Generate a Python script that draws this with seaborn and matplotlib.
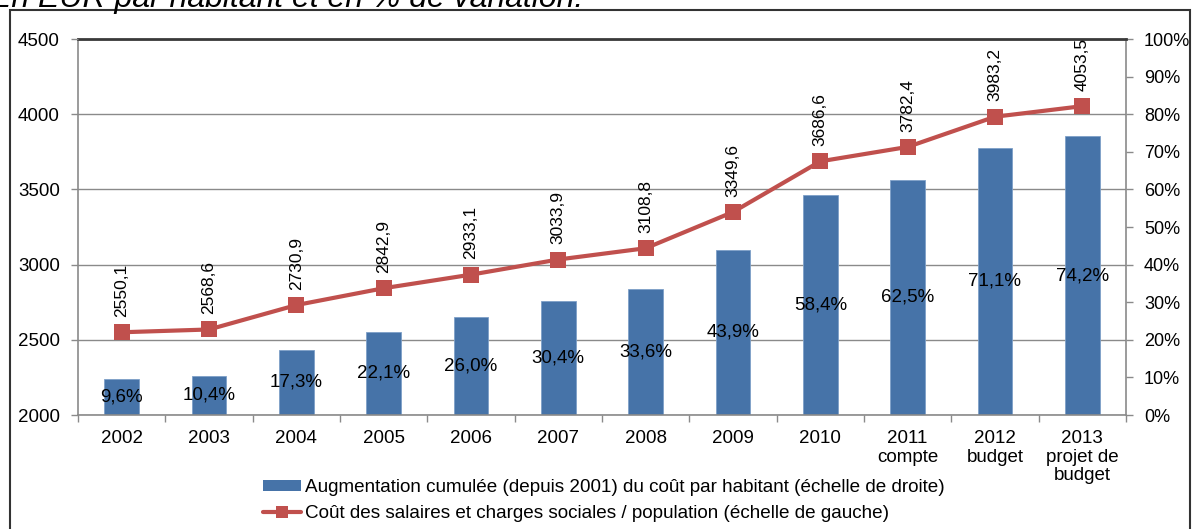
import matplotlib.pyplot as plt
import matplotlib.ticker as ticker
import numpy as np
import pandas as pd
import seaborn as sns
from matplotlib.lines import Line2D
from matplotlib.patches import Patch, Rectangle

sns.set_theme(style="white")
plt.rcParams["font.family"] = ["Liberation Sans", "DejaVu Sans"]
plt.rcParams["text.color"] = "black"
plt.rcParams["xtick.color"] = "black"
plt.rcParams["ytick.color"] = "black"

categories = ["2002", "2003", "2004", "2005", "2006", "2007", "2008", "2009",
              "2010", "2011\ncompte", "2012\nbudget", "2013\nprojet de\nbudget"]
pct_labels = ["9,6%", "10,4%", "17,3%", "22,1%", "26,0%", "30,4%", "33,6%",
              "43,9%", "58,4%", "62,5%", "71,1%", "74,2%"]
pct_values = [9.6, 10.4, 17.3, 22.1, 26.0, 30.4, 33.6, 43.9, 58.4, 62.5, 71.1, 74.2]
cost_values = [2550.1, 2568.6, 2730.9, 2842.9, 2933.1, 3033.9, 3108.8, 3349.6,
               3686.6, 3782.4, 3983.2, 4053.5]
cost_labels = ["2550,1", "2568,6", "2730,9", "2842,9", "2933,1", "3033,9", "3108,8",
               "3349,6", "3686,6", "3782,4", "3983,2", "4053,5"]

bar_label = "Augmentation cumulée (depuis 2001) du coût par habitant (échelle de droite)"
line_label = "Coût des salaires et charges sociales / population (échelle de gauche)"

bar_color = "#4673a8"
line_color = "#c0504d"
axis_gray = "#8a8a8a"

df = pd.DataFrame({"cat": categories, "pct": pct_values, "cost": cost_values})

W, H = 1194, 529
fig = plt.figure(figsize=(W / 100, H / 100), dpi=100)
ax = fig.add_axes([78 / W, 1 - 415 / H, (1126 - 78) / W, (415 - 39) / H])

# bars on the percentage scale (shown on the right)
sns.barplot(data=df, x="cat", y="pct", ax=ax, color=bar_color, width=0.4,
            saturation=1, edgecolor="#7ea0c8", linewidth=0.6, zorder=2)
ax.set_xlim(-0.5, len(categories) - 0.5)
ax.set_ylim(0, 100)
ax.set_xlabel("")
ax.set_ylabel("")
ax.bar_label(ax.containers[0], labels=pct_labels, label_type="center",
             fontsize=13.5, color="black")

# line on the cost scale (shown on the left)
ax2 = ax.twinx()
sns.lineplot(x=np.arange(len(cost_values)), y=cost_values, ax=ax2, color=line_color,
             linewidth=3, marker="s", markersize=11, markeredgewidth=0, zorder=5)
ax2.set_ylim(2000, 4500)
ax2.yaxis.tick_left()
ax2.yaxis.set_major_locator(ticker.MultipleLocator(500))
ax2.tick_params(axis="y", left=True, right=False, labelleft=True, labelright=False,
                length=5, width=1, color=axis_gray, pad=8, labelsize=13.5)
for sp in ax2.spines.values():
    sp.set_visible(False)

for i, (v, t) in enumerate(zip(cost_values, cost_labels)):
    ax2.annotate(t, (i, v), xytext=(0, 11), textcoords="offset points",
                 rotation=90, ha="center", va="bottom", fontsize=12.5)

# right axis setup (after twinx, which moves ticks)
ax.yaxis.tick_right()
ax.yaxis.set_major_locator(ticker.MultipleLocator(20))
ax.yaxis.set_minor_locator(ticker.MultipleLocator(10))
fmt = ticker.FuncFormatter(lambda v, p: f"{v:.0f}%")
ax.yaxis.set_major_formatter(fmt)
ax.yaxis.set_minor_formatter(fmt)
ax.tick_params(axis="y", which="both", left=False, right=True, labelleft=False,
               labelright=True, length=5, width=1, color=axis_gray, pad=8,
               labelsize=13)
ax.grid(axis="y", which="major", color=axis_gray, linewidth=1, zorder=0)
ax.set_axisbelow(True)

ax.xaxis.set_minor_locator(ticker.FixedLocator(np.arange(-0.5, len(categories), 1)))
ax.tick_params(axis="x", which="major", length=0, pad=11, labelsize=13.5)
ax.tick_params(axis="x", which="minor", bottom=True, length=5, width=1,
               color=axis_gray)
for lbl in ax.get_xticklabels():
    lbl.set_linespacing(1.12)

for name, sp in ax.spines.items():
    sp.set_color(axis_gray)
    sp.set_linewidth(1.2)
ax.spines["top"].set_color("#3a3a3a")
ax.spines["top"].set_linewidth(2)

handles = [Patch(facecolor=bar_color, edgecolor="none"),
           Line2D([], [], color=line_color, linewidth=3, marker="s",
                  markersize=9, markeredgewidth=0)]
fig.legend(handles, [bar_label, line_label], loc="upper center",
           bbox_to_anchor=(604 / W, 1 - 466 / H), frameon=False, fontsize=13.6,
           handlelength=2.0, handleheight=0.5, handletextpad=0.2, labelspacing=0.45,
           borderpad=0.2)

# outer frame of the chart block
fig.add_artist(Rectangle((10 / W, -0.05), (1190 - 10) / W, 1.05 - 10 / H,
                         transform=fig.transFigure, fill=False,
                         edgecolor="#333333", linewidth=1.5, clip_on=False))

fig.text(-10 / W, 1 - 7 / H, "En EUR par habitant et en % de variation.",
         fontsize=23, style="italic", ha="left", va="baseline")

fig.savefig("out.png", dpi=100)
